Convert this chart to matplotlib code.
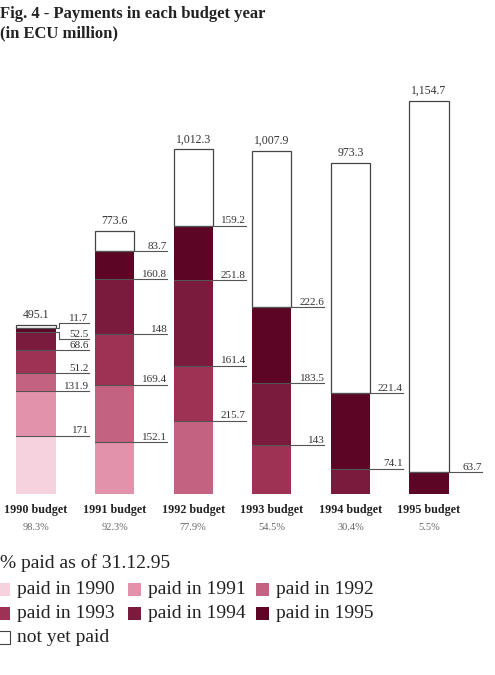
import numpy as np
import matplotlib
matplotlib.use('Agg')
import matplotlib.pyplot as plt
from matplotlib.patches import Rectangle

# ─── DATA (ECU million) ──────────────────────────────────────────────────────
budgets = ['1990 budget', '1991 budget', '1992 budget',
           '1993 budget', '1994 budget', '1995 budget']
totals = [495.1, 773.6, 1012.3, 1007.9, 973.3, 1154.7]
pct_paid = ['98.3%', '92.3%', '77.9%', '54.5%', '30.4%', '5.5%']

# payments per budget, in order of the year paid (first year = budget year)
paid_1990_budget = [171, 131.9, 51.2, 68.6, 52.5, 11.7]
paid_1991_budget = [152.1, 169.4, 148, 160.8, 83.7]
paid_1992_budget = [215.7, 161.4, 251.8, 159.2]
paid_1993_budget = [143, 183.5, 222.6]
paid_1994_budget = [74.1, 221.4]
paid_1995_budget = [63.7]
payments = [paid_1990_budget, paid_1991_budget, paid_1992_budget,
            paid_1993_budget, paid_1994_budget, paid_1995_budget]

legend_labels = ['paid in 1990', 'paid in 1991', 'paid in 1992',
                 'paid in 1993', 'paid in 1994', 'paid in 1995', 'not yet paid']

# ─── STYLE ───────────────────────────────────────────────────────────────────
year_colors = ['#f6d2de', '#e292aa', '#c46282', '#9d3254', '#7a1b3e', '#5c0524']
line_col = '#555555'
text_col = '#333333'
SERIF = ['Liberation Serif', 'DejaVu Serif']
plt.rcParams['font.family'] = SERIF

W, H = 495, 675
fig = plt.figure(figsize=(W / 100, H / 100), dpi=100)
fig.patch.set_facecolor('white')

def fx(px):
    return px / W

def fy(py):
    return 1 - py / H

# axes in pixel layout: bar baseline at y=494, 1 data unit = 0.3404 px
base_px, top_px = 494, 60
scale = 0.3404
ax = fig.add_axes([0, fy(base_px), 1, (base_px - top_px) / H])
ax.set_ylim(0, (base_px - top_px) / scale)
step = 78.6
ax.set_xlim(-36 / step, (W - 36) / step)
ax.axis('off')

bar_w = 0.5
lab_ext = 33 / step          # how far the leader line runs past the bar
# spread the crowded labels at the top of the 1990 bar
label_nudge = {(0, 4): -20, (0, 5): 14}

for i, (tot, pays) in enumerate(zip(totals, payments)):
    left = i - bar_w / 2
    right = i + bar_w / 2
    bottom = 0
    for k, v in enumerate(pays):
        year_idx = i + k
        ax.add_patch(Rectangle((left, bottom), bar_w, v, facecolor=year_colors[year_idx],
                               edgecolor='none', zorder=2))
        bottom += v
    # not yet paid part
    ax.add_patch(Rectangle((left, bottom), bar_w, tot - bottom, facecolor='white',
                           edgecolor='#444444', lw=0.9, zorder=2))

    # leader lines + value labels at the top of each paid segment
    cum = 0
    for k, v in enumerate(pays):
        cum += v
        ly = cum + label_nudge.get((i, k), 0)
        if ly != cum:
            ax.plot([left, right, right + 0.04, right + 0.04, right + lab_ext],
                    [cum, cum, cum, ly, ly], color=line_col, lw=0.8, zorder=3)
        else:
            ax.plot([left, right + lab_ext], [cum, cum], color=line_col, lw=0.8, zorder=3)
        ax.text(right + lab_ext, ly + 1, f'{v:g}', ha='right', va='bottom',
                fontsize=8, color=text_col, zorder=4)

    # total above bar
    ax.text(i, tot + 12, f'{tot:,.1f}', ha='center', va='bottom',
            fontsize=8.5, color=text_col)

    # category + percentage under bar
    fig.text(fx(36 + step * i), fy(510), budgets[i], ha='center', va='center',
             fontsize=8.7, fontweight='bold', color='#222222')
    fig.text(fx(36 + step * i), fy(527), pct_paid[i], ha='center', va='center',
             fontsize=7.5, color='#666666')

# ─── TITLE ───────────────────────────────────────────────────────────────────
fig.text(fx(0), fy(14), 'Fig. 4 - Payments in each budget year', ha='left',
         va='center', fontsize=12, fontweight='bold', color='#222222')
fig.text(fx(0), fy(33), '(in ECU million)', ha='left', va='center',
         fontsize=12, fontweight='bold', color='#222222')

# ─── LEGEND ──────────────────────────────────────────────────────────────────
fig.text(fx(0), fy(563), '% paid as of 31.12.95', ha='left', va='center',
         fontsize=14, color='#222222')
cols_x = [-3, 128, 256]
rows_y = [589, 613, 637]
for n, lab in enumerate(legend_labels):
    r, c = divmod(n, 3)
    sx, sy = cols_x[c], rows_y[r]
    if n < 6:
        fc, ec = year_colors[n], 'none'
    else:
        fc, ec = 'white', '#444444'
    fig.patches.append(Rectangle((fx(sx), fy(sy + 6.5)), 13 / W, 13 / H,
                                 transform=fig.transFigure, facecolor=fc,
                                 edgecolor=ec, lw=0.8))
    fig.text(fx(sx + 20), fy(sy), lab, ha='left', va='center',
             fontsize=14, color='#222222')

fig.savefig('out.png', dpi=100, facecolor='white')
